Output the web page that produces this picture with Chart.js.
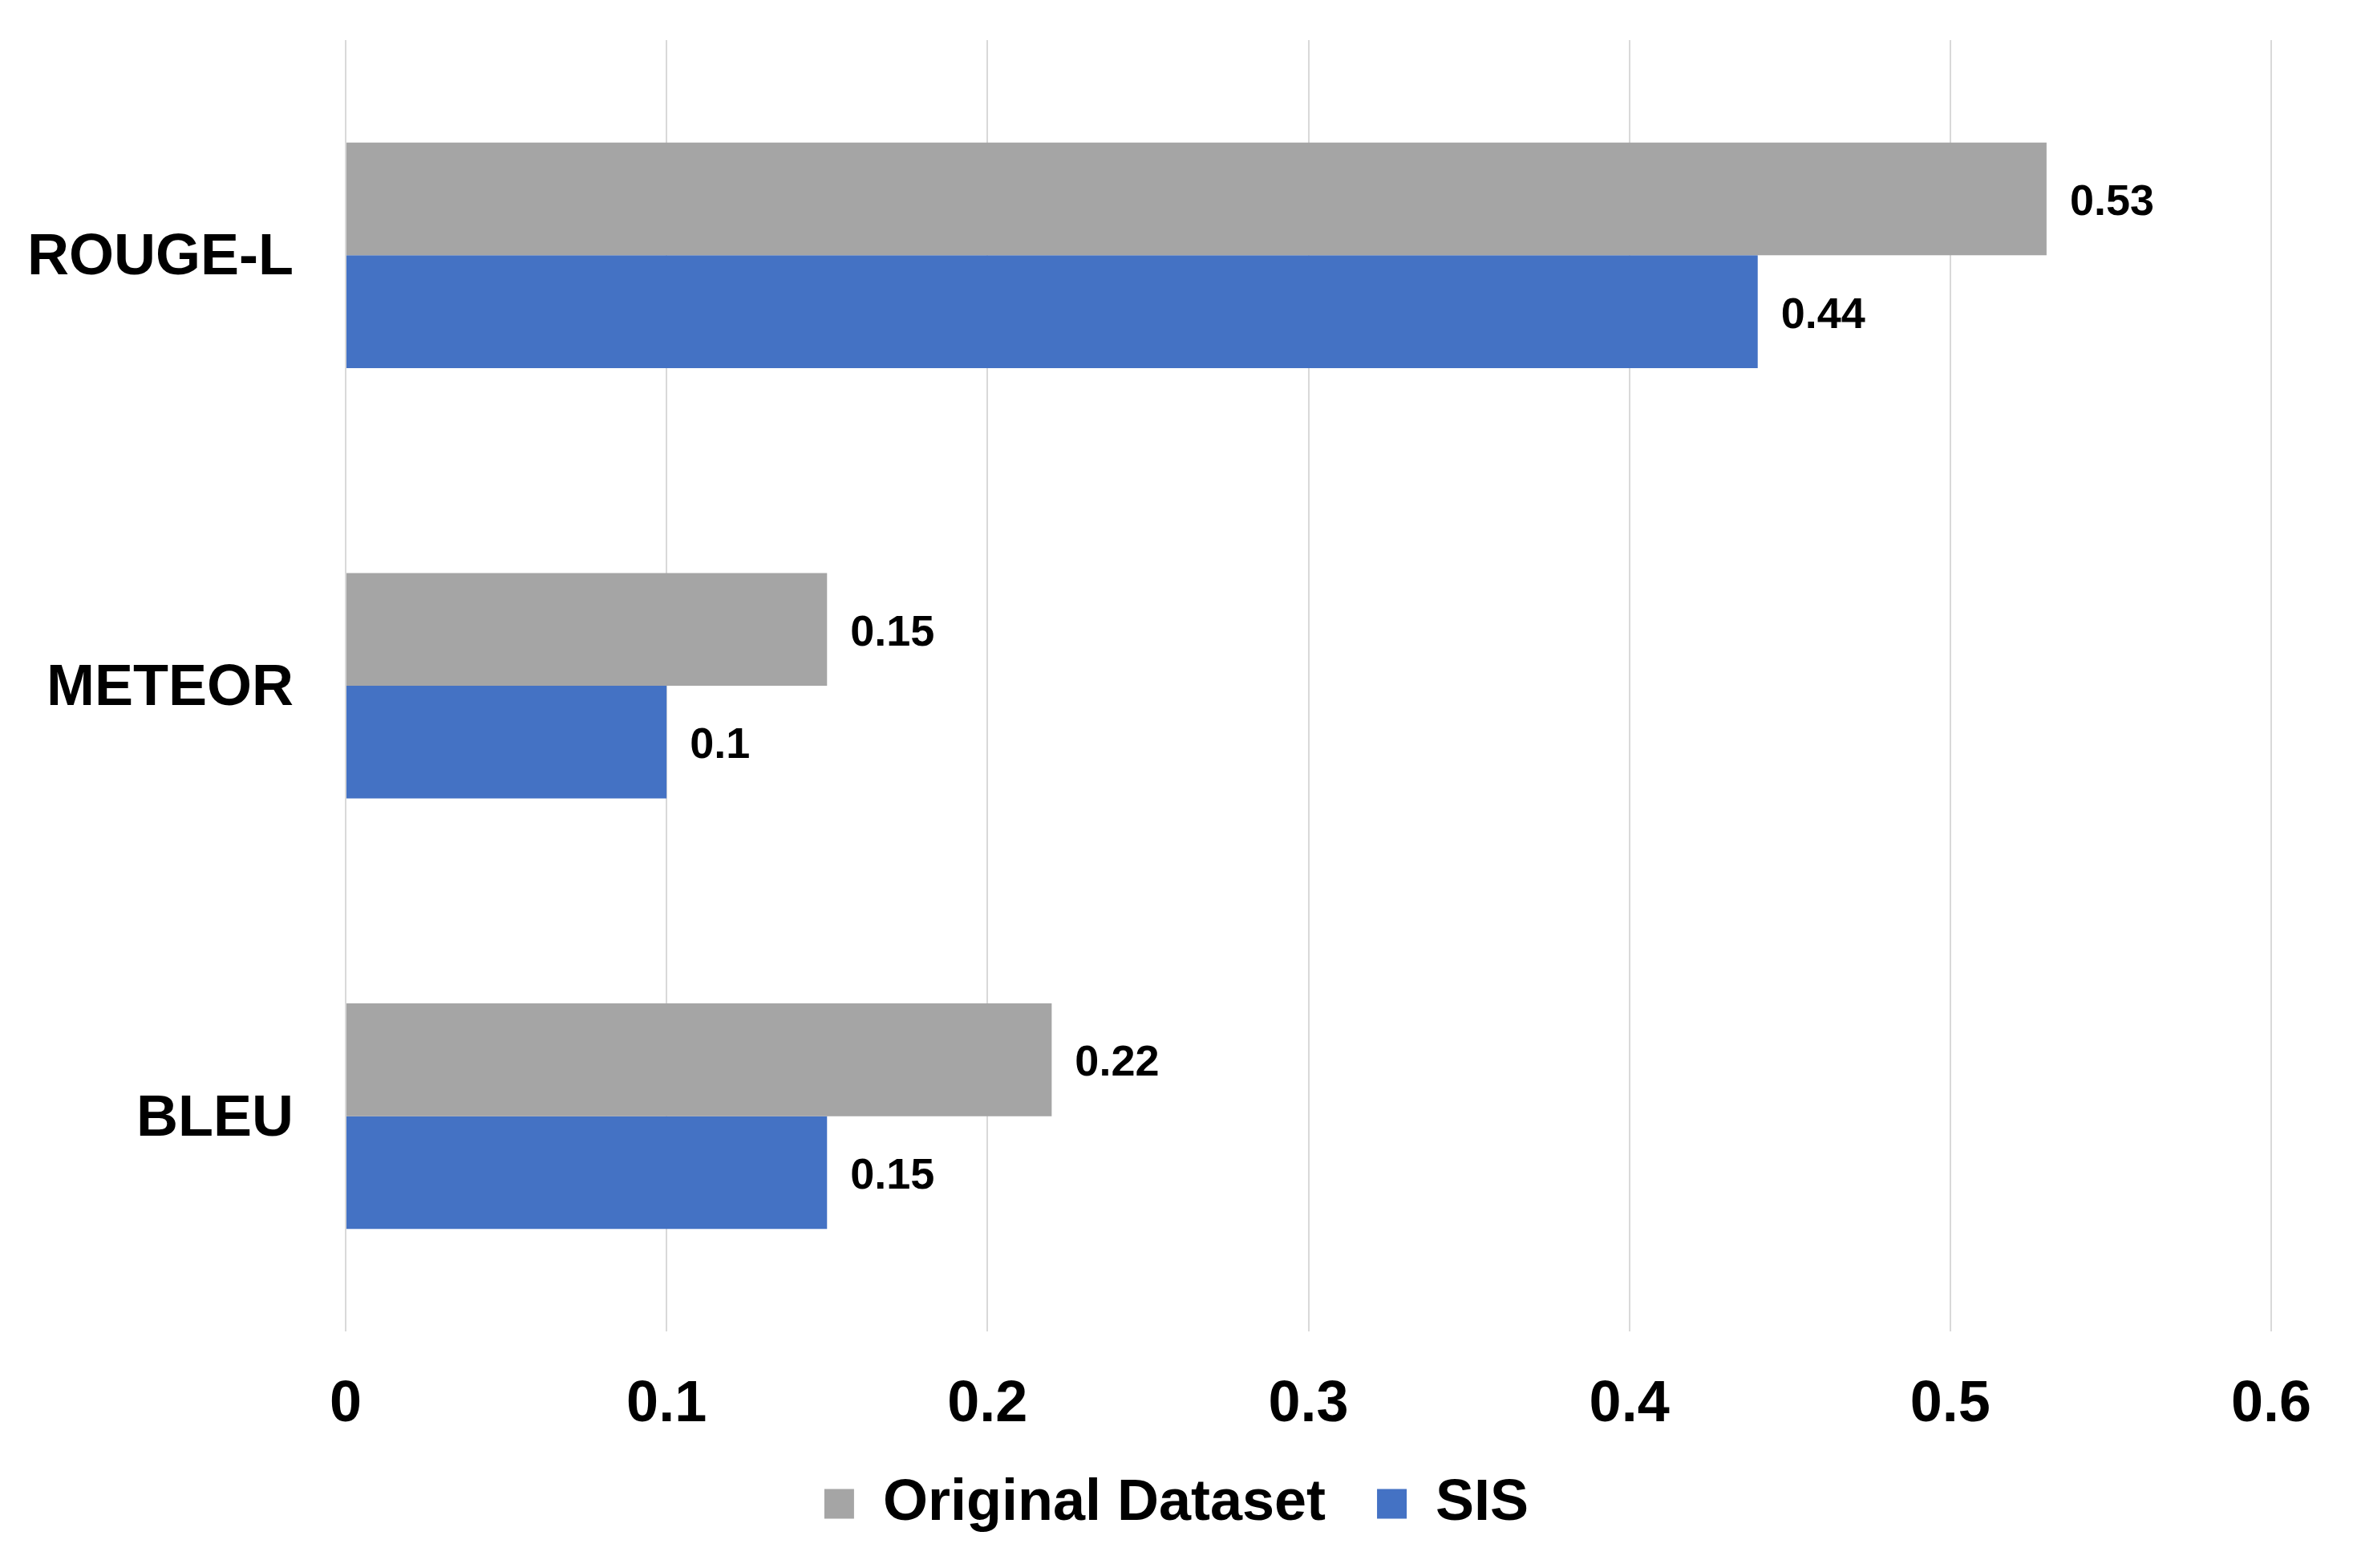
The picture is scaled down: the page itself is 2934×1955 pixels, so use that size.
<!DOCTYPE html>
<html>
<head>
<meta charset="utf-8">
<script src="https://cdn.jsdelivr.net/npm/chart.js@4.4.1/dist/chart.umd.min.js"></script>
<style>
    html, body { margin: 0; padding: 0; background: #ffffff; }
    #wrap { width: 2934px; height: 1955px; position: relative; }
</style>
</head>
<body>
<div id="wrap"><canvas id="chart"></canvas></div>
<script>
// Données du graphique
const categories = ['ROUGE-L', 'METEOR', 'BLEU'];
const seriesNames = ['Original Dataset', 'SIS'];
const originalValues = [0.53, 0.15, 0.22];
const sisValues = [0.44, 0.1, 0.15];
const xTickLabels = ['0', '0.1', '0.2', '0.3', '0.4', '0.5', '0.6'];

const COLORS = {
    original: '#a5a5a5',
    sis: '#4472c4',
    grid: '#d9d9d9',
    text: '#000000'
};

const FONT_FAMILY = '"Liberation Sans", Arial, Helvetica, sans-serif';

/**
 * Plugin pour afficher la valeur à droite de chaque barre
 */
const barValueLabels = {
    id: 'barValueLabels',
    afterDatasetsDraw(chart) {
        const ctx = chart.ctx;
        ctx.save();
        ctx.font = `bold 54px ${FONT_FAMILY}`;
        ctx.fillStyle = COLORS.text;
        ctx.textAlign = 'left';
        ctx.textBaseline = 'middle';
        chart.data.datasets.forEach((ds, i) => {
            const meta = chart.getDatasetMeta(i);
            meta.data.forEach((bar, j) => {
                ctx.fillText(String(ds.data[j]), bar.x + 29, bar.y + 5);
            });
        });
        ctx.restore();
    }
};

const ctx = document.getElementById('chart').getContext('2d');

new Chart(ctx, {
    type: 'bar',
    data: {
        labels: categories,
        datasets: [
            {
                label: seriesNames[0],
                data: originalValues,
                backgroundColor: COLORS.original,
                borderWidth: 0
            },
            {
                label: seriesNames[1],
                data: sisValues,
                backgroundColor: COLORS.sis,
                borderWidth: 0
            }
        ]
    },
    options: {
        indexAxis: 'y',
        responsive: true,
        maintainAspectRatio: false,
        animation: false,
        devicePixelRatio: 1,
        datasets: {
            bar: {
                categoryPercentage: 0.524,
                barPercentage: 1.0
            }
        },
        layout: {
            padding: { top: 50, right: 0, left: 0, bottom: 34 }
        },
        plugins: {
            legend: {
                position: 'bottom',
                labels: {
                    color: COLORS.text,
                    font: { family: FONT_FAMILY, size: 72, weight: 'bold' },
                    boxWidth: 37,
                    boxHeight: 37,
                    padding: 64
                }
            },
            tooltip: { enabled: false },
            title: { display: false }
        },
        scales: {
            x: {
                min: 0,
                max: 0.6,
                ticks: {
                    stepSize: 0.1,
                    color: COLORS.text,
                    font: { family: FONT_FAMILY, size: 72, weight: 'bold' },
                    padding: 49,
                    maxRotation: 0,
                    callback: (value, index) => xTickLabels[index]
                },
                grid: {
                    color: COLORS.grid,
                    lineWidth: 2,
                    drawTicks: false
                },
                border: { display: false },
                afterFit: (scale) => {
                    scale.height = 115;
                    scale.paddingLeft = 0;
                    scale.paddingRight = 102;
                }
            },
            y: {
                ticks: {
                    color: COLORS.text,
                    font: { family: FONT_FAMILY, size: 72, weight: 'bold' },
                    padding: 65,
                    labelOffset: 4
                },
                grid: { display: false, drawTicks: false },
                border: { display: false },
                afterFit: (scale) => {
                    scale.width = 431;
                    scale.paddingTop = 0;
                    scale.paddingBottom = 0;
                }
            }
        }
    },
    plugins: [barValueLabels]
});
</script>
</body>
</html>
